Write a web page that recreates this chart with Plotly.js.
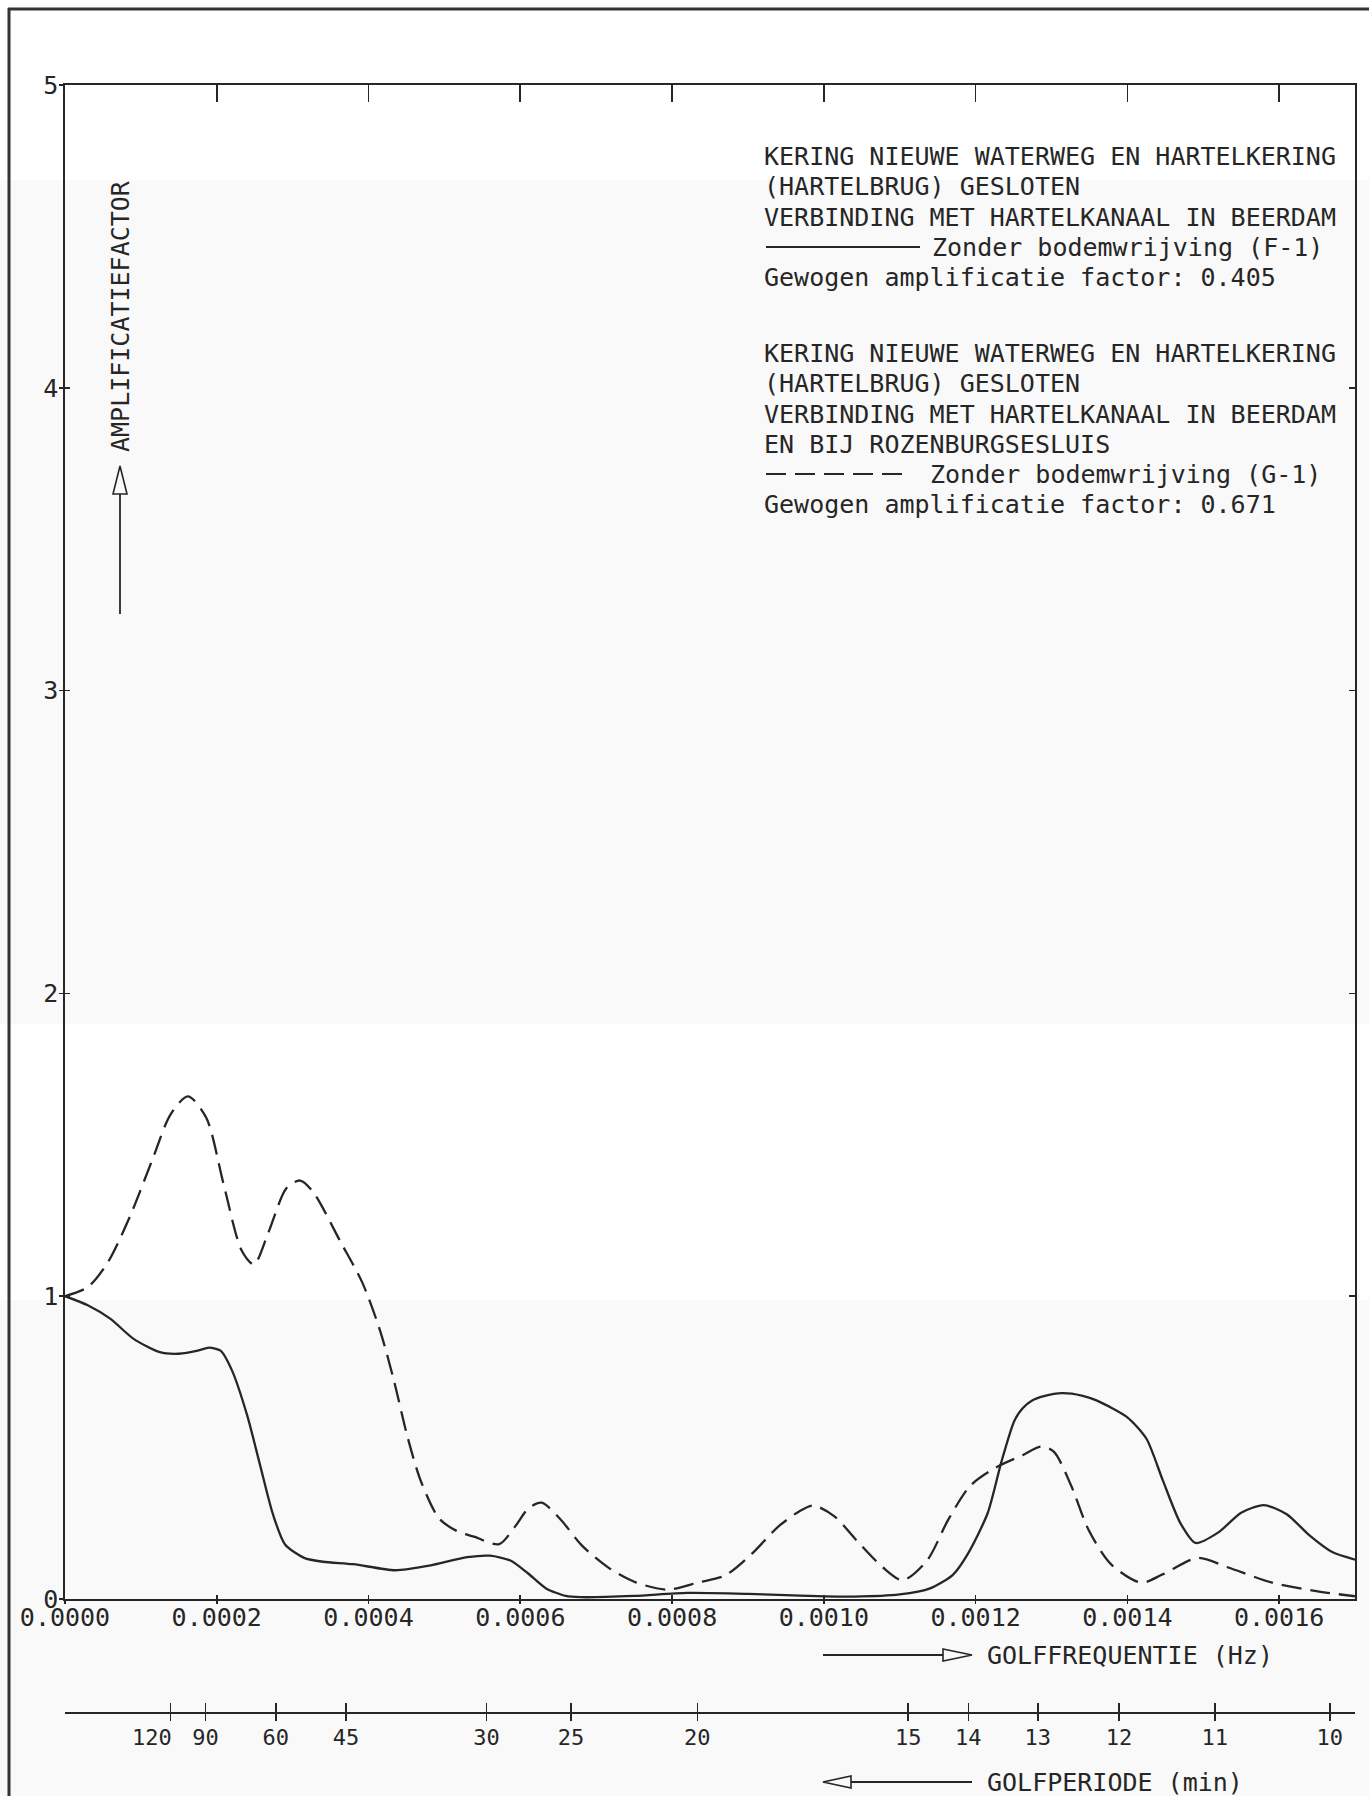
<!DOCTYPE html>
<html><head><meta charset="utf-8">
<script src="https://cdn.plot.ly/plotly-3.0.1.min.js"></script>
<style>html,body{margin:0;padding:0;background:#ffffff}</style>
</head><body><div id="chart" style="width:1369px;height:1796px"></div>
<script>
// ---- data ----
const freqF = [0, 0.00003, 0.00006, 0.00009, 0.000125, 0.00015, 0.000175, 0.00019, 0.000205, 0.00022, 0.00024, 0.000257, 0.000274, 0.00029, 0.000315, 0.00034, 0.00038, 0.000435, 0.00048, 0.00053, 0.00056, 0.000587, 0.00061, 0.000634, 0.00066, 0.00068, 0.00075, 0.00082, 0.0009, 0.00096, 0.00104, 0.0011, 0.00114, 0.00117, 0.00119, 0.001216, 0.001234, 0.001251, 0.001262, 0.001274, 0.00129, 0.001314, 0.00134, 0.00136, 0.0014, 0.001425, 0.001447, 0.00147, 0.00149, 0.00152, 0.00155, 0.00158, 0.00161, 0.00164, 0.00167, 0.0017];
const ampF = [1.0, 0.97, 0.925, 0.86, 0.815, 0.81, 0.82, 0.83, 0.82, 0.755, 0.607, 0.443, 0.28, 0.18, 0.136, 0.123, 0.115, 0.095, 0.11, 0.138, 0.143, 0.127, 0.085, 0.035, 0.01, 0.006, 0.01, 0.02, 0.017, 0.012, 0.008, 0.015, 0.035, 0.08, 0.15, 0.284, 0.453, 0.588, 0.63, 0.655, 0.67, 0.68, 0.672, 0.655, 0.6, 0.53, 0.39, 0.25, 0.185, 0.22, 0.285, 0.31, 0.28, 0.21, 0.155, 0.13];
const freqG = [0, 0.00003, 0.000056, 0.000085, 0.000115, 0.000139, 0.000162, 0.000186, 0.000209, 0.000233, 0.000249, 0.000268, 0.000292, 0.00031, 0.000327, 0.000363, 0.000392, 0.000416, 0.000434, 0.000451, 0.000469, 0.000493, 0.000516, 0.00054, 0.000572, 0.000593, 0.000611, 0.000628, 0.000652, 0.000681, 0.000717, 0.000752, 0.000794, 0.000835, 0.00087, 0.000905, 0.00094, 0.000968, 0.000986, 0.001014, 0.001043, 0.001078, 0.001104, 0.001136, 0.001164, 0.001193, 0.001228, 0.001262, 0.001286, 0.001303, 0.001326, 0.001349, 0.001378, 0.001418, 0.001447, 0.001493, 0.001533, 0.001591, 0.001649, 0.0017];
const ampG = [1.0, 1.03, 1.11, 1.26, 1.45, 1.60, 1.66, 1.59, 1.37, 1.15, 1.105, 1.21, 1.357, 1.382, 1.344, 1.18, 1.044, 0.88, 0.716, 0.539, 0.389, 0.266, 0.225, 0.205, 0.181, 0.239, 0.3, 0.318, 0.266, 0.177, 0.102, 0.055, 0.031, 0.055, 0.078, 0.149, 0.239, 0.29, 0.309, 0.273, 0.194, 0.104, 0.062, 0.127, 0.262, 0.374, 0.436, 0.475, 0.503, 0.487, 0.374, 0.228, 0.116, 0.054, 0.082, 0.136, 0.104, 0.054, 0.026, 0.009];
const freqTicks = [0, 0.0002, 0.0004, 0.0006, 0.0008, 0.0010, 0.0012, 0.0014, 0.0016];
const freqTickText = ['0.0000', '0.0002', '0.0004', '0.0006', '0.0008', '0.0010', '0.0012', '0.0014', '0.0016'];
const ampTicks = [0, 1, 2, 3, 4, 5];
const periodMinutes = [120, 90, 60, 45, 30, 25, 20, 15, 14, 13, 12, 11, 10];
const legendF = ['KERING NIEUWE WATERWEG EN HARTELKERING', '(HARTELBRUG) GESLOTEN', 'VERBINDING MET HARTELKANAAL IN BEERDAM', 'Zonder bodemwrijving (F-1)', 'Gewogen amplificatie factor: 0.405'];
const legendG = ['KERING NIEUWE WATERWEG EN HARTELKERING', '(HARTELBRUG) GESLOTEN', 'VERBINDING MET HARTELKANAAL IN BEERDAM', 'EN BIJ ROZENBURGSESLUIS', 'Zonder bodemwrijving (G-1)', 'Gewogen amplificatie factor: 0.671'];
const yTitle = 'AMPLIFICATIEFACTOR';
const xTitle = 'GOLFFREQUENTIE (Hz)';
const x2Title = 'GOLFPERIODE (min)';

// ---- layout geometry (pixels) ----
const W = 1369, H = 1796;
const L = 65, R = 1355, T = 85, B = 1712, AXB = 1599;
const px = x => (x - L) / (R - L);
const py = y => (B - y) / (B - T);
const INK = '#262626';
const FONT = {family: 'DejaVu Sans Mono, monospace', size: 25, color: INK};
const FONT_P = {family: 'DejaVu Sans Mono, monospace', size: 22, color: INK};
const XR = [0, 0.0017];
const periodVals = periodMinutes.map(t => 1 / (60 * t));
// the first period label sits left of its tick in the reference: drawn as an annotation instead
const periodText = periodMinutes.map((t, i) => i === 0 ? '' : String(t));

const traces = [
  {x: freqF, y: ampF, mode: 'lines', line: {color: INK, width: 2.3, shape: 'spline', smoothing: 0.7}, hoverinfo: 'skip'},
  {x: freqG, y: ampG, mode: 'lines', line: {color: INK, width: 2.3, dash: '20px,9px', shape: 'spline', smoothing: 0.8}, hoverinfo: 'skip'},
  {x: [], y: [], xaxis: 'x2', yaxis: 'y', mode: 'lines', hoverinfo: 'skip'},
  {x: [], y: [], xaxis: 'x3', yaxis: 'y', mode: 'lines', hoverinfo: 'skip'},
  {x: [], y: [], xaxis: 'x4', yaxis: 'y', mode: 'lines', hoverinfo: 'skip'},
  {x: [], y: [], xaxis: 'x5', yaxis: 'y', mode: 'lines', hoverinfo: 'skip'},
  {x: [], y: [], xaxis: 'x', yaxis: 'y2', mode: 'lines', hoverinfo: 'skip'},
  {x: [], y: [], xaxis: 'x', yaxis: 'y3', mode: 'lines', hoverinfo: 'skip'}
];

const axBase = {range: XR, showgrid: false, zeroline: false, linecolor: INK, linewidth: 1.6, tickcolor: INK, tickwidth: 1.6, tickfont: FONT, fixedrange: true};

const annotations = [];
const shapes = [];
// faint scan bands of the paper
function band(y0, y1) {
  shapes.push({type: 'rect', xref: 'paper', yref: 'paper', x0: px(0), x1: px(W), y0: py(y0), y1: py(y1), fillcolor: '#f9f9f9', line: {width: 0}, layer: 'below'});
}
band(180, 1024);
band(1300, H);
function txt(s, x, y, extra) {
  annotations.push(Object.assign({text: s, x: px(x), y: py(y), xref: 'paper', yref: 'paper', xanchor: 'left', yanchor: 'middle', showarrow: false, font: FONT}, extra || {}));
}
function seg(x0, y0, x1, y1, extra) {
  shapes.push(Object.assign({type: 'line', xref: 'paper', yref: 'paper', x0: px(x0), y0: py(y0), x1: px(x1), y1: py(y1), line: {color: INK, width: 1.8}}, extra || {}));
}
function tri(pts) {
  const d = pts.map((p, i) => (i ? 'L' : 'M') + px(p[0]) + ',' + py(p[1])).join(' ') + ' Z';
  shapes.push({type: 'path', xref: 'paper', yref: 'paper', path: d, line: {color: INK, width: 1.6}, fillcolor: 'rgba(0,0,0,0)'});
}

// legend block 1
const yF = [157, 187, 217, 247, 277];
legendF.forEach((s, i) => txt(s, i === 3 ? 930 : 762, yF[i]));
seg(766, 247, 920, 247, {line: {color: INK, width: 2}});
// legend block 2
const yG = [354, 384, 414, 444, 474, 504];
legendG.forEach((s, i) => txt(s, i === 4 ? 928 : 762, yG[i]));
seg(766, 474, 911, 474, {line: {color: INK, width: 2, dash: '20px,9px'}});

// axis titles with arrows
txt(yTitle, 120, 316, {xanchor: 'center', textangle: -90});
seg(120, 494, 120, 614);
tri([[120, 466], [113, 494], [127, 494]]);
txt(xTitle, 985, 1655);
seg(823, 1655, 943, 1655);
tri([[943, 1649], [972, 1655], [943, 1661]]);
txt(x2Title, 985, 1782);
seg(851, 1782, 972, 1782);
tri([[823, 1782], [851, 1776], [851, 1788]]);

// first period label, placed on the period axis scale
annotations.push({text: String(periodMinutes[0]), xref: 'x2', yref: 'paper', x: periodVals[0], y: py(1738), xanchor: 'right', yanchor: 'middle', xshift: 4, showarrow: false, font: FONT_P});

// page frame (top and left)
seg(8, 9, 1369, 9, {line: {color: '#333', width: 3}});
seg(9, 8, 9, 1796, {line: {color: '#333', width: 3}});

const layout = {
  width: W, height: H,
  margin: {l: L, r: W - R, t: T, b: H - B, pad: 0},
  paper_bgcolor: '#ffffff', plot_bgcolor: 'rgba(0,0,0,0)',
  showlegend: false, font: FONT,
  xaxis: Object.assign({}, axBase, {anchor: 'y', tickmode: 'array', tickvals: freqTicks, ticktext: freqTickText, ticks: 'inside', ticklen: 4, showline: true, tickangle: 0, ticklabelstandoff: -5}),
  xaxis5: Object.assign({}, axBase, {anchor: 'y', overlaying: 'x', side: 'bottom', tickmode: 'array', tickvals: freqTicks, ticks: 'outside', ticklen: 4, showline: false, showticklabels: false}),
  xaxis3: Object.assign({}, axBase, {anchor: 'y', overlaying: 'x', side: 'top', tickmode: 'array', tickvals: freqTicks, ticks: 'inside', ticklen: 17, showline: true, showticklabels: false}),
  xaxis2: Object.assign({}, axBase, {anchor: 'free', position: 0, overlaying: 'x', side: 'bottom', tickmode: 'array', tickvals: periodVals, ticktext: periodText, ticks: 'outside', ticklen: 7, showline: true, tickangle: 0, tickfont: FONT_P, ticklabelstandoff: -2}),
  xaxis4: Object.assign({}, axBase, {anchor: 'free', position: 0, overlaying: 'x', side: 'bottom', tickmode: 'array', tickvals: periodVals, ticks: 'inside', ticklen: 9, showline: false, showticklabels: false}),
  yaxis: Object.assign({}, axBase, {range: [0, 5], domain: [py(AXB), 1], anchor: 'x', tickmode: 'array', tickvals: ampTicks, ticks: 'inside', ticklen: 5, showline: true, tickangle: 0, ticklabelstandoff: 0}),
  yaxis3: Object.assign({}, axBase, {range: [0, 5], domain: [py(AXB), 1], anchor: 'x', overlaying: 'y', side: 'left', tickmode: 'array', tickvals: ampTicks, ticks: 'outside', ticklen: 5, showline: false, showticklabels: false}),
  yaxis2: Object.assign({}, axBase, {range: [0, 5], domain: [py(AXB), 1], anchor: 'x', overlaying: 'y', side: 'right', tickmode: 'array', tickvals: ampTicks, ticks: 'inside', ticklen: 6, showline: true, showticklabels: false}),
  annotations: annotations,
  shapes: shapes
};

Plotly.newPlot('chart', traces, layout, {staticPlot: true, displayModeBar: false});
</script>
</body></html>
